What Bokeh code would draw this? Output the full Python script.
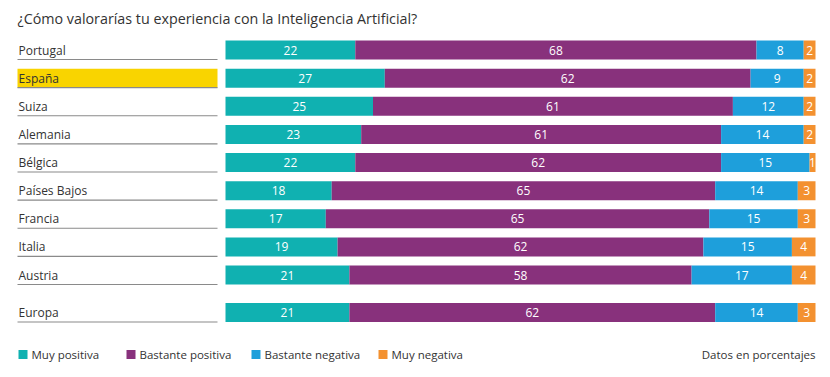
from bokeh.plotting import figure
from bokeh.models import ColumnDataSource, Range1d
from bokeh.core.properties import value
from bokeh.embed import file_html
from bokeh.resources import INLINE

# ---- data ----
countries = ["Portugal", "España", "Suiza", "Alemania", "Bélgica", "Países Bajos",
             "Francia", "Italia", "Austria", "Europa"]
muy_positiva = [22, 27, 25, 23, 22, 18, 17, 19, 21, 21]
bastante_positiva = [68, 62, 61, 61, 62, 65, 65, 62, 58, 62]
bastante_negativa = [8, 9, 12, 14, 15, 14, 15, 15, 17, 14]
muy_negativa = [2, 2, 2, 2, 1, 3, 3, 4, 4, 3]
series_names = ["Muy positiva", "Bastante positiva", "Bastante negativa", "Muy negativa"]
highlight = "España"
title_text = "¿Cómo valorarías tu experiencia con la Inteligencia Artificial?"
note_text = "Datos en porcentajes"

# ---- styles / layout ----
colors = ["#10b1b1", "#88317c", "#1e9fdb", "#f39130"]
yellow = "#f9d400"
txt = "#333333"
FONT = value("Open Sans")
W, H = 826, 373
PAGE_L, PAGE_T = 0, 0
BAR_X0, BAR_X1 = 225, 815          # page px for 0% and 100%
ROW0_Y, ROW_STEP = 49.5, 28.125    # page px of first row centre, row step
BAR_H_PX = 19
EU_GAP = 1.0 / 3.0                 # extra gap (in rows) before the total row

sx = (BAR_X1 - BAR_X0) / 100.0
x_start = (PAGE_L - BAR_X0) / sx
x_end = (PAGE_L + W - BAR_X0) / sx
y_top = (PAGE_T - ROW0_Y) / ROW_STEP
y_bot = (PAGE_T + H - ROW0_Y) / ROW_STEP

p = figure(width=W, height=H, output_backend="svg", toolbar_location=None,
           x_range=Range1d(x_start, x_end), y_range=Range1d(y_bot, y_top),
           min_border=0, outline_line_color=None, background_fill_color="white",
           border_fill_color="white")
p.axis.visible = False
p.grid.visible = False
p.extra_x_ranges = {"px": Range1d(PAGE_L, PAGE_L + W)}
p.extra_y_ranges = {"py": Range1d(PAGE_T + H, PAGE_T)}

n = len(countries)
ypos = [i + (EU_GAP if i == n - 1 else 0) for i in range(n)]
bh = BAR_H_PX / ROW_STEP

data = dict(y=ypos, country=countries)
series = [muy_positiva, bastante_positiva, bastante_negativa, muy_negativa]
for name, vals in zip(series_names, series):
    data[name] = vals
src = ColumnDataSource(data)
p.hbar_stack(series_names, y="y", height=bh, color=colors, line_color=None, source=src)

# value labels
lx, ly, lt = [], [], []
for i in range(n):
    left = 0
    for vals in series:
        v = vals[i]
        lx.append(left + v / 2.0)
        ly.append(ypos[i])
        lt.append(str(v))
        left += v
p.text(x=lx, y=ly, text=lt, text_color="white", text_font=FONT, text_font_size="12px",
       text_align="center", text_baseline="middle")

# highlight + country labels + underlines
hi = countries.index(highlight)
p.quad(left=[17], right=[217], top=[ypos[hi] - bh / 2], bottom=[ypos[hi] + bh / 2],
       x_range_name="px", color=yellow, line_color=None)
p.segment(x0=[17] * n, x1=[217] * n, y0=[y + bh / 2 for y in ypos], y1=[y + bh / 2 for y in ypos],
          x_range_name="px", line_color="#8a8a8a", line_width=1.2)
p.text(x=[18] * n, y=ypos, text=countries, x_range_name="px", text_color=txt, text_font=FONT,
       text_font_size="12px", text_baseline="middle", text_align="left")

# title
p.text(x=[17], y=[18], text=[title_text], x_range_name="px", y_range_name="py",
       text_color=txt, text_font=FONT, text_font_size="14.3px", text_baseline="middle")

# legend
leg_x = [18, 126, 251, 378]
leg_y = 354
p.quad(left=leg_x, right=[x + 9 for x in leg_x], top=[leg_y - 4.5] * 4, bottom=[leg_y + 4.5] * 4,
       x_range_name="px", y_range_name="py", color=colors, line_color=None)
p.text(x=[x + 13 for x in leg_x], y=[leg_y] * 4, text=series_names, x_range_name="px",
       y_range_name="py", text_color=txt, text_font=FONT, text_font_size="11.5px",
       text_baseline="middle")
p.text(x=[815], y=[leg_y], text=[note_text], x_range_name="px", y_range_name="py",
       text_color=txt, text_font=FONT, text_font_size="11.5px", text_baseline="middle",
       text_align="right")

open("out.html", "w").write(file_html(p, INLINE))
